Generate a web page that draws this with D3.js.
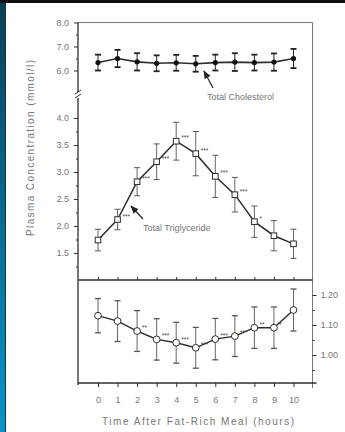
<!DOCTYPE html>
<html>
<head>
<meta charset="utf-8">
<script src="https://cdn.jsdelivr.net/npm/d3@7"></script>
<style>
body { margin: 0; background: #fff; }
svg { display: block; font-family: "Liberation Sans", Arial, sans-serif; }
</style>
</head>
<body>
<svg width="345" height="432"></svg>
<script>
'use strict';
// data
let aHours = [0, 1, 2, 3, 4, 5, 6, 7, 8, 9, 10]
let aCholMean = [6.33, 6.5, 6.36, 6.3, 6.32, 6.28, 6.33, 6.35, 6.33, 6.35, 6.5]
let aCholSd = [0.33, 0.36, 0.36, 0.33, 0.33, 0.33, 0.33, 0.37, 0.33, 0.36, 0.4]
let aTgMean = [1.74, 2.12, 2.82, 3.19, 3.57, 3.34, 2.92, 2.58, 2.08, 1.82, 1.67]
let aTgSd = [0.2, 0.19, 0.26, 0.33, 0.35, 0.41, 0.39, 0.32, 0.29, 0.28, 0.27]
let aTgSig = ["", "***", "***", "***", "***", "***", "***", "***", "*", "", ""]
let aRatioMean = [1.131, 1.113, 1.08, 1.052, 1.041, 1.024, 1.053, 1.063, 1.091, 1.091, 1.15]
let aRatioSd = [0.057, 0.068, 0.068, 0.069, 0.068, 0.068, 0.069, 0.068, 0.069, 0.069, 0.07]
let aRatioSig = ["", "", "**", "***", "***", "***", "***", "***", "**", "*", ""]
let aCholTicks = [6.0, 7.0, 8.0]
let aTgTicks = [1.5, 2.0, 2.5, 3.0, 3.5, 4.0]
let aRatioTicks = [1.0, 1.1, 1.2]

let svg = d3.select("svg")
let sInk = "#2e2e2e", sText = "#767676"

// slide backdrop: dark top band, blue strip on the left
let defs = svg.append("defs")
let grad = defs.append("linearGradient").attr("id", "strip")
	.attr("x1", 0).attr("y1", 0).attr("x2", 0).attr("y2", 1)
grad.append("stop").attr("offset", 0).attr("stop-color", "#0b3f58")
grad.append("stop").attr("offset", 1).attr("stop-color", "#0995cb")
svg.append("rect").attr("x", 0).attr("y", 0).attr("width", 5).attr("height", 432).attr("fill", "url(#strip)")
svg.append("rect").attr("x", 5).attr("y", 0).attr("width", 1).attr("height", 432).attr("fill", "#163340")
svg.append("rect").attr("x", 0).attr("y", 0).attr("width", 345).attr("height", 3).attr("fill", "#111")

defs.append("marker").attr("id", "head")
	.attr("viewBox", "0 0 10 10").attr("refX", 9).attr("refY", 5)
	.attr("markerWidth", 7).attr("markerHeight", 7).attr("orient", "auto")
	.append("path").attr("d", "M0,1L10,5L0,9z").attr("fill", "#222")

// scales
let x = d3.scaleLinear().domain([0, 10]).range([98, 293.5])
let yChol = d3.scaleLinear().domain([6, 8]).range([70.5, 22.5])
let yTg = d3.scaleLinear().domain([1, 4]).range([280, 118])
let yRatio = d3.scaleLinear().domain([1.0, 1.2]).range([355, 295])

let xL = 78, xR = 312.5, yTop = 22.5, yMid = 280, yBot = 383

// frame
let gFrame = svg.append("g").attr("stroke", sInk).attr("fill", "none")
gFrame.append("line").attr("x1", xL).attr("x2", xL).attr("y1", yTop).attr("y2", 92).attr("stroke-width", 1.3)
gFrame.append("line").attr("x1", xL).attr("x2", xL).attr("y1", 98).attr("y2", yBot + 2).attr("stroke-width", 1.3)
gFrame.append("line").attr("x1", xL).attr("x2", xR).attr("y1", yTop).attr("y2", yTop).attr("stroke", "#777")
gFrame.append("line").attr("x1", xR).attr("x2", xR).attr("y1", yTop).attr("y2", yBot + 5).attr("stroke", "#777")
gFrame.append("line").attr("x1", xL).attr("x2", xR).attr("y1", yMid).attr("y2", yMid).attr("stroke-width", 1.3)
gFrame.append("line").attr("x1", xL).attr("x2", xR + 4).attr("y1", yBot).attr("y2", yBot).attr("stroke-width", 1.6)
// axis break marks
gFrame.append("path").attr("d", `M${xL - 3},94 L${xL + 3},90 M${xL - 3},98 L${xL + 3},94`).attr("stroke-width", 1)

function styleAxis(g) {
	g.select(".domain").remove()
	g.selectAll("line").attr("stroke", sInk)
	g.selectAll("text").attr("fill", sText).attr("font-size", 9)}

// left axes
svg.append("g").attr("transform", `translate(${xL},0)`)
	.call(d3.axisLeft(yChol).tickValues(aCholTicks).tickSize(4).tickPadding(5).tickFormat(d3.format(".1f")))
	.call(styleAxis)
svg.append("g").attr("transform", `translate(${xL},0)`)
	.call(d3.axisLeft(yChol).tickValues([6.5, 7.5]).tickSize(2).tickFormat(""))
	.call(styleAxis)
svg.append("g").attr("transform", `translate(${xL},0)`)
	.call(d3.axisLeft(yTg).tickValues(aTgTicks).tickSize(4).tickPadding(5).tickFormat(d3.format(".1f")))
	.call(styleAxis)
svg.append("g").attr("transform", `translate(${xL},0)`)
	.call(d3.axisLeft(yTg).tickValues([1.25, 1.75, 2.25, 2.75, 3.25, 3.75]).tickSize(2).tickFormat(""))
	.call(styleAxis)

// right axis for the ratio panel
svg.append("g").attr("transform", `translate(${xR},0)`)
	.call(d3.axisRight(yRatio).tickValues(aRatioTicks).tickSize(4).tickPadding(4).tickFormat(d3.format(".2f")))
	.call(styleAxis)
svg.append("g").attr("transform", `translate(${xR},0)`)
	.call(d3.axisRight(yRatio).tickValues([0.95, 1.05, 1.15]).tickSize(2).tickFormat(""))
	.call(styleAxis)

// hour ticks on divider and bottom axis
svg.append("g").attr("transform", `translate(0,${yMid})`)
	.call(d3.axisTop(x).tickValues(aHours).tickSize(3).tickFormat(""))
	.call(styleAxis)
svg.append("g").attr("transform", `translate(0,${yBot})`)
	.call(d3.axisBottom(x).tickValues(aHours).tickSize(4).tickPadding(10).tickFormat(d3.format("d")))
	.call(styleAxis)

// titles
svg.append("text").attr("x", 198).attr("y", 425).attr("text-anchor", "middle")
	.attr("font-size", 10).attr("fill", sText)
	.attr("textLength", 192).attr("lengthAdjust", "spacing")
	.text("Time After Fat-Rich Meal (hours)")
svg.append("text").attr("transform", "translate(34,148) rotate(-90)").attr("text-anchor", "middle")
	.attr("font-size", 10).attr("fill", sText)
	.attr("textLength", 176).attr("lengthAdjust", "spacing")
	.text("Plasma Concentration (mmol/l)")

// draw one series: line, error bars, markers
function drawSeries(aMean, aSd, y, opt) {
	let g = svg.append("g")
	let pts = aHours.map((h, i) => ({h: h, m: aMean[i], s: aSd[i]}))
	g.append("path").datum(pts)
		.attr("d", d3.line().x(d => x(d.h)).y(d => y(d.m)))
		.attr("fill", "none").attr("stroke", sInk).attr("stroke-width", opt.lw)
	let eb = g.selectAll(".eb").data(pts).enter().append("g").attr("class", "eb")
		.attr("stroke", opt.barColor).attr("stroke-width", opt.bw)
	eb.append("line").attr("x1", d => x(d.h)).attr("x2", d => x(d.h))
		.attr("y1", d => y(d.m - d.s)).attr("y2", d => y(d.m + d.s))
	eb.append("line").attr("x1", d => x(d.h) - 3).attr("x2", d => x(d.h) + 3)
		.attr("y1", d => y(d.m + d.s)).attr("y2", d => y(d.m + d.s)).attr("stroke-width", opt.cw)
	eb.append("line").attr("x1", d => x(d.h) - 3).attr("x2", d => x(d.h) + 3)
		.attr("y1", d => y(d.m - d.s)).attr("y2", d => y(d.m - d.s)).attr("stroke-width", opt.cw)
	if (opt.shape === "dot") {
		g.selectAll(".mk").data(pts).enter().append("circle")
			.attr("cx", d => x(d.h)).attr("cy", d => y(d.m)).attr("r", 2.6).attr("fill", "#111")}
	else if (opt.shape === "square") {
		g.selectAll(".mk").data(pts).enter().append("rect")
			.attr("x", d => x(d.h) - 2.8).attr("y", d => y(d.m) - 2.8).attr("width", 5.6).attr("height", 5.6)
			.attr("fill", "#fff").attr("stroke", sInk).attr("stroke-width", 1)}
	else {
		g.selectAll(".mk").data(pts).enter().append("circle")
			.attr("cx", d => x(d.h)).attr("cy", d => y(d.m)).attr("r", 3.4)
			.attr("fill", "#fff").attr("stroke", sInk).attr("stroke-width", 1)}
	return g}

drawSeries(aCholMean, aCholSd, yChol, {lw: 1.6, barColor: "#222", bw: 1, cw: 1.8, shape: "dot"})
drawSeries(aTgMean, aTgSd, yTg, {lw: 1.5, barColor: "#555", bw: 0.9, cw: 1, shape: "square"})
drawSeries(aRatioMean, aRatioSd, yRatio, {lw: 1.4, barColor: "#555", bw: 0.9, cw: 1.3, shape: "circle"})

// significance stars
function drawStars(aSig, aMean, y) {
	svg.append("g").selectAll("text").data(aHours).enter().append("text")
		.attr("x", h => x(h) + 5).attr("y", (h, i) => y(aMean[i]) - 1)
		.attr("font-size", 6.5).attr("fill", "#444")
		.text((h, i) => aSig[i])}
drawStars(aTgSig, aTgMean, yTg)
drawStars(aRatioSig, aRatioMean, yRatio)

// annotations
svg.append("text").attr("x", 207).attr("y", 100).attr("font-size", 9).attr("fill", sText).text("Total Cholesterol")
svg.append("line").attr("x1", 213).attr("y1", 88).attr("x2", 204).attr("y2", 71)
	.attr("stroke", "#222").attr("stroke-width", 1.2).attr("marker-end", "url(#head)")
svg.append("text").attr("x", 143).attr("y", 231).attr("font-size", 9).attr("fill", sText).text("Total Triglyceride")
svg.append("line").attr("x1", 143).attr("y1", 219).attr("x2", 131).attr("y2", 206)
	.attr("stroke", "#222").attr("stroke-width", 1.2).attr("marker-end", "url(#head)")
</script>
</body>
</html>
